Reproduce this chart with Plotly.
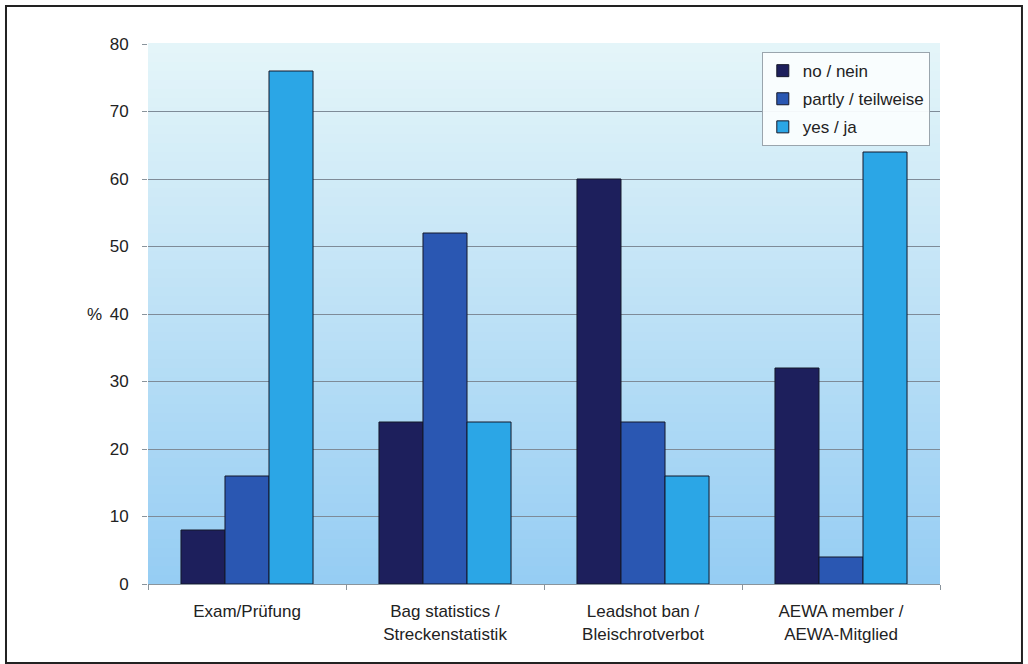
import plotly.graph_objects as go

# Survey answers per topic, in percent
categories = ["Exam/Prüfung", "Bag statistics /<br>Streckenstatistik",
              "Leadshot ban /<br>Bleischrotverbot", "AEWA member /<br>AEWA-Mitglied"]
no_nein = [8, 24, 60, 32]
partly_teilweise = [16, 52, 24, 4]
yes_ja = [76, 24, 16, 64]
y_ticks = [0, 10, 20, 30, 40, 50, 60, 70, 80]

series = [
    ("no / nein", no_nein, "#1d1f5c", "g1"),
    ("partly / teilweise", partly_teilweise, "#2a57b2", "g2"),
    ("yes / ja", yes_ja, "#2ba6e6", "g3"),
]

fig = go.Figure()
for name, vals, color, grp in series:
    fig.add_trace(go.Bar(
        x=categories, y=vals, name=name, legendgroup=grp,
        marker=dict(color=color, line=dict(color="#15182a", width=1)),
    ))

# Vertical gradient behind the bars: pale cyan at the top, light blue at the bottom
top_rgb = (228, 245, 249)
bot_rgb = (150, 205, 243)
bands = 60
shapes = []
for i in range(bands):
    t = i / (bands - 1)
    r = round(bot_rgb[0] + (top_rgb[0] - bot_rgb[0]) * t)
    g = round(bot_rgb[1] + (top_rgb[1] - bot_rgb[1]) * t)
    b = round(bot_rgb[2] + (top_rgb[2] - bot_rgb[2]) * t)
    shapes.append(dict(
        type="rect", xref="x domain", yref="y domain",
        x0=0, x1=1, y0=i / bands, y1=(i + 1) / bands + 0.002,
        fillcolor=f"rgb({r},{g},{b})", line=dict(width=0), layer="below",
    ))

# Frame around the whole chart
shapes.append(dict(
    type="rect", xref="paper", yref="paper",
    x0=-0.1793, x1=1.1035, y0=-0.1463, y1=1.0704,
    line=dict(color="#222222", width=2), fillcolor="rgba(0,0,0,0)", layer="above",
))

FONT = "Liberation Sans, Arial, sans-serif"
FS = 17

fig.update_layout(
    width=1028, height=664,
    margin=dict(l=148, r=88, t=44, b=80),
    paper_bgcolor="white",
    plot_bgcolor="rgba(0,0,0,0)",
    font=dict(family=FONT, size=FS, color="#222222"),
    barmode="group",
    bargap=0.333,
    bargroupgap=0,
    shapes=shapes,
    showlegend=True,
    legend=dict(
        x=0.775, y=0.985, xanchor="left", yanchor="top",
        bgcolor="rgba(250,253,254,0.95)", bordercolor="#9aa5ad", borderwidth=1,
        font=dict(family=FONT, size=FS, color="#222222"),
        tracegroupgap=3, itemwidth=30,
    ),
    annotations=[dict(
        text="%", xref="paper", yref="paper", x=-0.0556, y=0.5,
        xanchor="right", yanchor="middle", showarrow=False,
        font=dict(family=FONT, size=FS, color="#222222"),
    )],
)

fig.update_xaxes(
    type="category",
    showgrid=False,
    showline=True, linecolor="#8a949c", linewidth=1,
    ticks="outside", tickson="boundaries", ticklen=5, tickcolor="#8a949c",
    ticklabelstandoff=12,
    tickfont=dict(family=FONT, size=FS, color="#222222"),
)
fig.update_yaxes(
    range=[0, 80],
    tickvals=y_ticks,
    showgrid=True, gridcolor="#7e8b98", gridwidth=1,
    zeroline=False,
    showline=False,
    ticks="outside", ticklen=5, tickcolor="#8a949c",
    ticklabelstandoff=10,
    tickfont=dict(family=FONT, size=FS, color="#222222"),
)

fig.write_html("out.html")
